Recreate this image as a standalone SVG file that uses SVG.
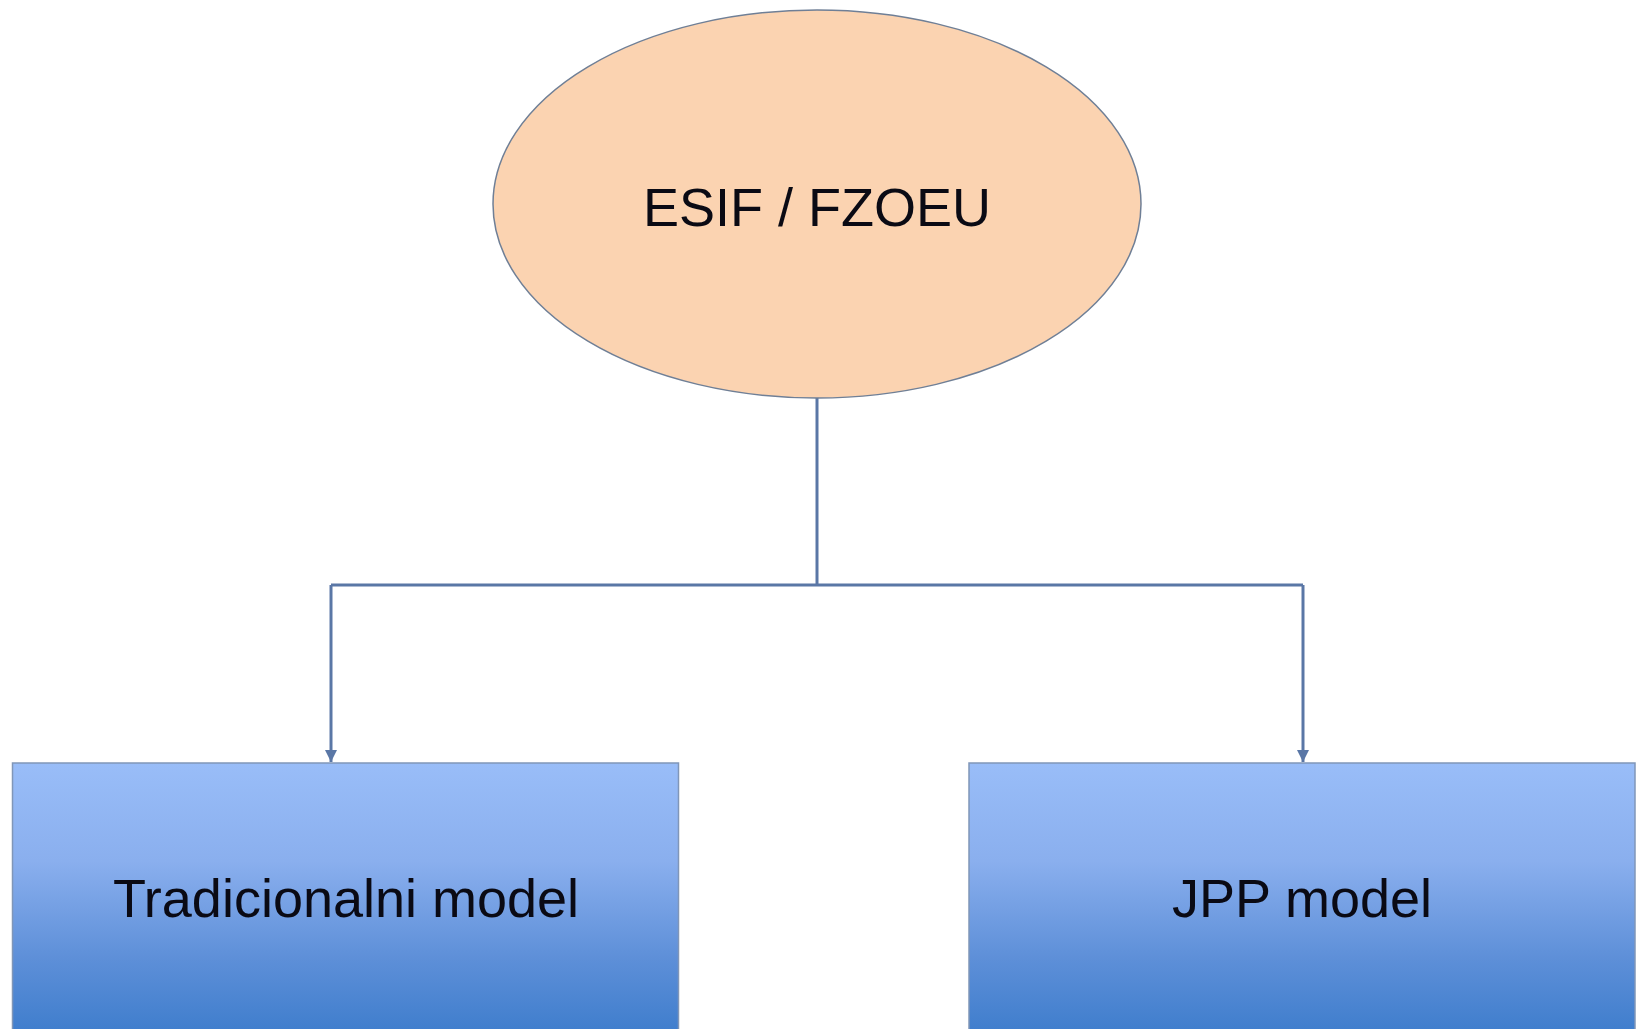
<svg xmlns="http://www.w3.org/2000/svg" width="1638" height="1029" viewBox="0 0 1638 1029">
<style>
.lbl{font-family:"Liberation Sans",Arial,sans-serif;font-size:54px;fill:#0a0a14;text-anchor:middle}
.box{fill:url(#boxg);stroke:#8096b8;stroke-width:1.5}
.conn{fill:none;stroke:#5a77a6;stroke-width:3}
</style>
<defs>
<linearGradient id="boxg" x1="0" y1="0" x2="0" y2="1">
<stop offset="0" stop-color="#99bdf8"/>
<stop offset="0.35" stop-color="#8aafee"/>
<stop offset="0.7" stop-color="#5d8fd8"/>
<stop offset="1" stop-color="#3b7bcb"/>
</linearGradient>
<marker id="arr" viewBox="0 0 10 10" refX="10" refY="5" markerWidth="4" markerHeight="4" orient="auto" markerUnits="strokeWidth">
<path d="M0,0 L10,5 L0,10 z" fill="#5a77a6"/>
</marker>
</defs>
<rect width="1638" height="1029" fill="#ffffff"/>
<g id="connectors">
<path class="conn" d="M817,398 V585"/>
<path class="conn" d="M331,585 H1303"/>
<path class="conn" d="M331,585 V762" marker-end="url(#arr)"/>
<path class="conn" d="M1303,585 V762" marker-end="url(#arr)"/>
</g>
<g id="esif">
<ellipse cx="817" cy="204" rx="324" ry="194" fill="#fbd3b1" stroke="#6f7f96" stroke-width="1.5"/>
<text class="lbl" x="817" y="226">ESIF / FZOEU</text>
</g>
<g id="tradicionalni">
<rect class="box" x="12.5" y="763" width="666" height="280"/>
<text class="lbl" x="346" y="917">Tradicionalni model</text>
</g>
<g id="jpp">
<rect class="box" x="969" y="763" width="666" height="280"/>
<text class="lbl" x="1302" y="917">JPP model</text>
</g>
</svg>
